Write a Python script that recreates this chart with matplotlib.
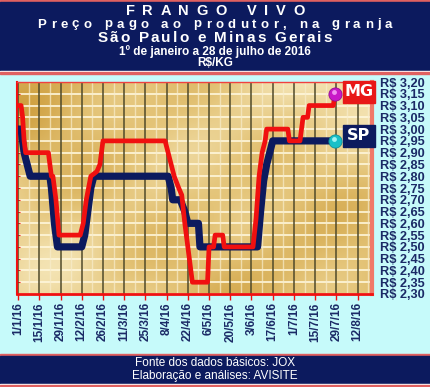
import numpy as np
import pandas as pd
import matplotlib
matplotlib.use('Agg')
import matplotlib.pyplot as plt
from matplotlib.colors import LinearSegmentedColormap
from matplotlib.patches import Rectangle

plt.rcParams['font.family'] = ['Liberation Sans', 'DejaVu Sans']

# days counted from 1/1/2016
sp_dia   = [0, 2, 4, 6, 8, 21, 22, 24, 26, 42, 44, 46, 48, 50, 99, 101, 102,
            107, 110, 112, 119, 120, 158, 160, 162, 164, 166, 168, 209]
sp_preco = [3.00, 3.00, 2.90, 2.85, 2.80, 2.80, 2.75, 2.60, 2.50, 2.50, 2.55,
            2.65, 2.75, 2.80, 2.80, 2.75, 2.70, 2.70, 2.65, 2.60, 2.60, 2.50,
            2.50, 2.65, 2.78, 2.85, 2.90, 2.95, 2.95]

mg_dia   = [0, 2, 3, 4, 5, 20, 21, 22, 23, 25, 27, 41, 43, 45, 48, 52, 54, 56,
            97, 99, 101, 103, 106, 108, 110, 112, 115, 125, 126, 129, 130, 135,
            136, 155, 157, 159, 161, 163, 164, 178, 179, 186, 187, 188, 191,
            192, 208, 209]
mg_preco = [3.10, 3.10, 3.05, 2.95, 2.90, 2.90, 2.85, 2.80, 2.80, 2.70, 2.55,
            2.55, 2.60, 2.70, 2.80, 2.82, 2.85, 2.95, 2.95, 2.90, 2.85, 2.80,
            2.75, 2.72, 2.60, 2.50, 2.35, 2.35, 2.50, 2.50, 2.55, 2.55, 2.50,
            2.50, 2.62, 2.80, 2.90, 2.95, 3.00, 3.00, 2.95, 2.95, 3.00, 3.05,
            3.05, 3.10, 3.10, 3.15]

datas = pd.date_range('2016-01-01', '2016-08-12', freq='14D')
rotulos_x = ['%d/%d/16' % (d.day, d.month) for d in datas]
ticks_x = [(d - datas[0]).days for d in datas]
ticks_y = np.arange(2.30, 3.2001, 0.05)
rotulos_y = [('R$ %.2f' % v).replace('.', ',') for v in ticks_y]

azul = '#0C1A5E'
vermelho = '#F01010'
W, H = 430, 387

fig = plt.figure(figsize=(W / 100, H / 100), dpi=100)
fig.patch.set_facecolor('#C6FAFA')
rend = fig.canvas.get_renderer()

# header / footer drawn in pixel coordinates
bg = fig.add_axes([0, 0, 1, 1])
bg.set_xlim(0, W)
bg.set_ylim(H, 0)
bg.axis('off')
bg.add_patch(Rectangle((0, 0), W, 1.5, color='#E06060'))
bg.add_patch(Rectangle((0, 1.5), W, 69.5, color=azul))
bg.add_patch(Rectangle((0, 71), W, 1, color='white'))
bg.add_patch(Rectangle((0, 72), W, 1.5, color='#E06060'))
bg.add_patch(Rectangle((0, 354), W, 1.5, color='#E06060'))
bg.add_patch(Rectangle((0, 355.5), W, 28, color=azul))
bg.add_patch(Rectangle((0, 383.5), W, 1, color='white'))
bg.add_patch(Rectangle((0, 384.5), W, 1.5, color='#E06060'))


def texto_espacado(txt, y, fs, track):
    # letter-spaced white bold text, centred at W/2
    larg = []
    for c in txt:
        t = bg.text(0, 0, c if c != ' ' else 'n', fontsize=fs, fontweight='bold')
        w = t.get_window_extent(rend).width
        if c == ' ':
            w *= 0.5
        larg.append(w)
        t.remove()
    total = sum(larg) + track * (len(txt) - 1)
    x = W / 2 - total / 2
    for c, w in zip(txt, larg):
        if c != ' ':
            bg.text(x, y, c, color='white', fontsize=fs, fontweight='bold',
                    ha='left', va='center')
        x += w + track


texto_espacado('FRANGO VIVO', 11, 10.5, 7.6)
texto_espacado('Preço pago ao produtor, na granja', 24.5, 9.5, 4.3)
texto_espacado('São Paulo e Minas Gerais', 38, 11, 2.0)
bg.text(W / 2, 51.5, '1º de janeiro a 28 de julho de 2016', color='white',
        fontsize=8.5, fontweight='bold', ha='center', va='center')
bg.text(W / 2, 63.5, 'R$/KG', color='white', fontsize=8.5, fontweight='bold',
        ha='center', va='center')
bg.text(W / 2, 362.5, 'Fonte dos dados básicos: JOX', color='white',
        fontsize=8.5, ha='center', va='center')
bg.text(W / 2, 376, 'Elaboração e análises: AVISITE', color='white',
        fontsize=8.5, ha='center', va='center')

# main chart
x0, x1, y0, y1 = 17, 372, 82, 294
ax = fig.add_axes([x0 / W, 1 - y1 / H, (x1 - x0) / W, (y1 - y0) / H])
xmin, xmax = -0.7, 233.5
ax.set_xlim(xmin, xmax)
ax.set_ylim(2.30, 3.20)

# golden texture
gx, gy = np.meshgrid(np.linspace(0, 1, 300), np.linspace(0, 1, 200))
tex = (0.55 + 0.2 * np.sin(gx * 4.5 + 1.2) * np.cos(gy * 3.5 - 0.5)
       + 0.1 * np.sin(gx * 9 + gy * 6) + 0.07 * np.cos(gx * 15 - gy * 11)
       + 0.12 * gx)
ouro = LinearSegmentedColormap.from_list('ouro', ['#CFA040', '#E4C478', '#F4E4B4'])
ax.imshow(tex, extent=[xmin, xmax, 2.30, 3.20], aspect='auto', cmap=ouro,
          origin='lower', zorder=0, interpolation='bilinear')

for v in ticks_y:
    ax.axhline(v, color='#FFF7DC', lw=1.2, zorder=1)
for t in ticks_x:
    ax.axvline(t + 7, color='#F8EDCC', lw=1, alpha=0.7, zorder=1)
    ax.axvline(t, color='#504A2A', lw=1.1, zorder=2)

ax.plot(sp_dia, sp_preco, color=azul, lw=5.2, solid_joinstyle='round',
        solid_capstyle='round', zorder=3)
ax.plot(mg_dia, mg_preco, color=vermelho, lw=3.4, solid_joinstyle='round',
        solid_capstyle='round', zorder=4)

# end markers
ax.plot(sp_dia[-1], sp_preco[-1], 'o', ms=9.5, color='#18C0C8', mec='#109098',
        mew=0.6, zorder=5)
ax.plot(sp_dia[-1] - 0.8, sp_preco[-1] + 0.008, 'o', ms=3.5, color='#A0F4F4',
        mew=0, zorder=6)
ax.plot(mg_dia[-1], mg_preco[-1], 'o', ms=9.5, color='#C818C8', mec='#901090',
        mew=0.6, zorder=5)
ax.plot(mg_dia[-1] - 0.8, mg_preco[-1] + 0.008, 'o', ms=3.5, color='#F090F0',
        mew=0, zorder=6)

ax.set_xticks(ticks_x)
ax.set_xticklabels(rotulos_x, rotation=90, fontsize=8.5, fontweight='bold',
                   color='#1B2A66')
ax.set_yticks(ticks_y)
ax.set_yticklabels(rotulos_y, fontsize=9.2, fontweight='bold', color='#1B2A66')
ax.tick_params(axis='x', colors=vermelho, length=4, width=1, pad=2,
               labelcolor='#1B2A66')
ax.tick_params(axis='y', left=True, right=False, labelleft=False,
               labelright=True, colors=vermelho, length=2, width=0.8,
               direction='in', pad=6, labelcolor='#1B2A66')
ax.grid(False)

for lado, lw, cor in [('left', 1.5, vermelho), ('bottom', 2, vermelho),
                      ('top', 1, '#F04040'), ('right', 3, '#F07868')]:
    ax.spines[lado].set_linewidth(lw)
    ax.spines[lado].set_color(cor)
    ax.spines[lado].set_zorder(7)

# series labels, on an overlay above the chart
fg = fig.add_axes([0, 0, 1, 1], zorder=10)
fg.set_xlim(0, W)
fg.set_ylim(H, 0)
fg.axis('off')
for nome, cor, ytop in [('MG', '#E81818', 81), ('SP', azul, 125)]:
    fg.add_patch(Rectangle((343, ytop), 32, 21.5, color=cor))
    fg.text(359, ytop + 11, nome, color='white', fontsize=11.5,
            fontweight='bold', family='DejaVu Sans', ha='center', va='center')

fig.savefig('out.png', dpi=100, facecolor=fig.get_facecolor())
